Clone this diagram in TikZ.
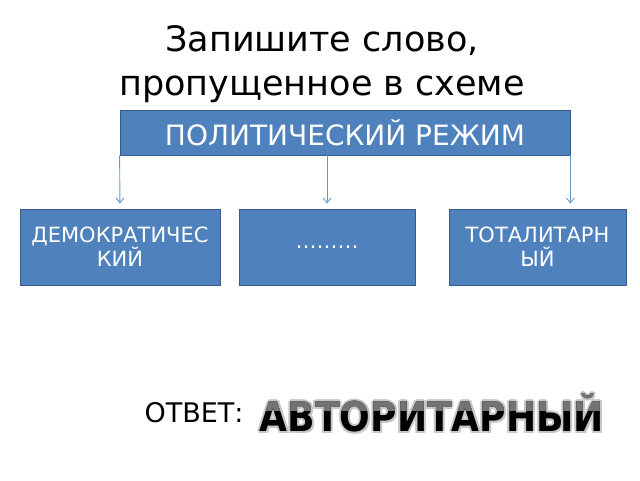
\documentclass[tikz,border=0pt]{standalone}
\usepackage{fontspec}
\setmainfont{DejaVu Sans}
\usetikzlibrary{arrows.meta}
\definecolor{boxblue}{HTML}{4F81BD}
\definecolor{boxline}{HTML}{385D8A}

\begin{document}
\begin{tikzpicture}[x=1pt,y=-1pt,
    blok/.style={draw=boxline,fill=boxblue,text=white,line width=0.8pt,
      align=center,inner sep=0pt},
    strelka/.style={-{Straight Barb[length=5pt,width=8pt]},draw=boxblue!85,
      line width=0.9pt,shorten >=5pt},
    otv/.style={font=\fontsize{41}{44}\bfseries\selectfont,inner sep=0pt}]
         \useasboundingbox (0,0) rectangle (640,480) ;
         % zagolovok
         \node[align=center,font=\fontsize{35}{44}\selectfont] (zag) at (322,64)
         {Запишите слово,\\пропущенное в схеме} ;
         % skhema
         \node[blok,minimum width=450pt,minimum height=45pt,
           font=\fontsize{28}{30}\selectfont] (rezhim) at (345,132.5)
         {ПОЛИТИЧЕСКИЙ РЕЖИМ} ;
         \node[blok,minimum width=200pt,minimum height=76pt,
           font=\fontsize{21}{24}\selectfont] (demo) at (120,247)
         {ДЕМОКРАТИЧЕС\\КИЙ} ;
         \node[blok,minimum width=176pt,minimum height=76pt,
           font=\fontsize{21}{24}\selectfont] (propusk) at (327,247)
         {………} ;
         \node[blok,minimum width=177pt,minimum height=76pt,
           font=\fontsize{21}{24}\selectfont] (total) at (537.5,247)
         {ТОТАЛИТАРН\\ЫЙ} ;
         \draw[strelka] (rezhim.south west) -- (demo.north) ;
         \draw[strelka] (rezhim.south -| propusk.north) -- (propusk.north) ;
         \draw[strelka] (rezhim.south east) -- (rezhim.south east |- total.north) ;
         % otvet
         \node[anchor=west,font=\fontsize{27}{30}\selectfont] (otvet) at (141,413)
         {ОТВЕТ:} ;
         \foreach \a in {0,45,...,315}
           \node[otv,text=black!22,shift={(\a:2)}] (ten\a) at (432,413)
           {\scalebox{0.88}[1]{АВТОРИТАРНЫЙ}} ;
         \node[otv] (slovo) at (432,413) {\scalebox{0.88}[1]{АВТОРИТАРНЫЙ}} ;
         \begin{scope}
           \clip (250,380) rectangle (620,410) ;
           \node[otv,text=black!55] (blik) at (432,413)
           {\scalebox{0.88}[1]{АВТОРИТАРНЫЙ}} ;
         \end{scope}
       \end{tikzpicture}
\end{document}
